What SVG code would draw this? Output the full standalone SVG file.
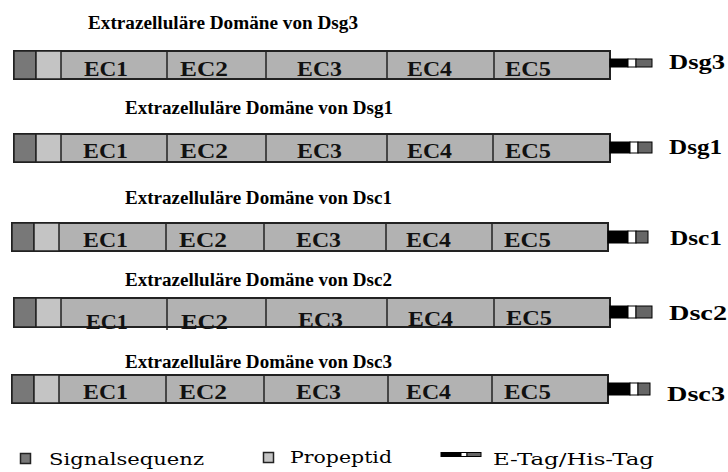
<svg xmlns="http://www.w3.org/2000/svg" width="728" height="472" viewBox="0 0 728 472">
  <style>
    .title { font-family: "Liberation Serif", "Times New Roman", serif; font-weight: bold; font-size: 18px; fill: #000; }
    .ec { font-family: "Liberation Serif", "Times New Roman", serif; font-weight: bold; font-size: 20px; fill: #111; }
    .name { font-family: "Liberation Serif", "Times New Roman", serif; font-weight: bold; font-size: 20px; fill: #000; }
    .legend { font-family: "DejaVu Serif", "Liberation Serif", serif; font-size: 17px; fill: #000; }
    .bar { fill: #b2b2b2; stroke: #222; stroke-width: 2; }
    .sig { fill: #787878; stroke: #222; stroke-width: 1.5; }
    .pro { fill: #c4c4c4; stroke: #222; stroke-width: 1.5; }
    .div { stroke: #222; stroke-width: 1.5; }
    .tagE { fill: #000; stroke: #000; stroke-width: 1; }
    .tagW { fill: #fff; stroke: #000; stroke-width: 1; }
    .tagH { fill: #666; stroke: #000; stroke-width: 1; }
  </style>
  <rect width="728" height="472" fill="#fff"/>

  <!-- Dsg3 -->
  <g id="dsg3">
    <text class="title" x="88" y="29" textLength="270" lengthAdjust="spacingAndGlyphs">Extrazelluläre Domäne von Dsg3</text>
    <rect class="bar" x="14" y="51" width="596" height="28"/>
    <rect class="sig" x="14" y="51" width="22" height="28"/>
    <rect class="pro" x="36" y="51" width="25" height="28"/>
    <line class="div" x1="167" y1="51" x2="167" y2="79"/>
    <line class="div" x1="266" y1="51" x2="266" y2="79"/>
    <line class="div" x1="387" y1="51" x2="387" y2="79"/>
    <line class="div" x1="494" y1="51" x2="494" y2="79"/>
    <text class="ec" x="84" y="76" textLength="44" lengthAdjust="spacingAndGlyphs">EC1</text>
    <text class="ec" x="180" y="76" textLength="48" lengthAdjust="spacingAndGlyphs">EC2</text>
    <text class="ec" x="297" y="76" textLength="45" lengthAdjust="spacingAndGlyphs">EC3</text>
    <text class="ec" x="407" y="76" textLength="45" lengthAdjust="spacingAndGlyphs">EC4</text>
    <text class="ec" x="505" y="76" textLength="46" lengthAdjust="spacingAndGlyphs">EC5</text>
    <rect class="tagE" x="610" y="59" width="18" height="8"/>
    <rect class="tagW" x="628" y="59" width="8" height="8"/>
    <rect class="tagH" x="636" y="59" width="16" height="8"/>
    <text class="name" x="669" y="69" textLength="56" lengthAdjust="spacingAndGlyphs">Dsg3</text>
  </g>

  <!-- Dsg1 -->
  <g id="dsg1">
    <text class="title" x="125" y="114" textLength="268" lengthAdjust="spacingAndGlyphs">Extrazelluläre Domäne von Dsg1</text>
    <rect class="bar" x="14" y="134" width="596" height="28"/>
    <rect class="sig" x="14" y="134" width="22" height="28"/>
    <rect class="pro" x="36" y="134" width="25" height="28"/>
    <line class="div" x1="167" y1="134" x2="167" y2="162"/>
    <line class="div" x1="266" y1="134" x2="266" y2="162"/>
    <line class="div" x1="387" y1="134" x2="387" y2="162"/>
    <line class="div" x1="493" y1="134" x2="493" y2="162"/>
    <text class="ec" x="83" y="158" textLength="45" lengthAdjust="spacingAndGlyphs">EC1</text>
    <text class="ec" x="180" y="158" textLength="48" lengthAdjust="spacingAndGlyphs">EC2</text>
    <text class="ec" x="297" y="158" textLength="45" lengthAdjust="spacingAndGlyphs">EC3</text>
    <text class="ec" x="407" y="158" textLength="45" lengthAdjust="spacingAndGlyphs">EC4</text>
    <text class="ec" x="505" y="158" textLength="46" lengthAdjust="spacingAndGlyphs">EC5</text>
    <rect class="tagE" x="610" y="142" width="20" height="11"/>
    <rect class="tagW" x="630" y="142" width="8" height="11"/>
    <rect class="tagH" x="638" y="142" width="14" height="11"/>
    <text class="name" x="669" y="154" textLength="53" lengthAdjust="spacingAndGlyphs">Dsg1</text>
  </g>

  <!-- Dsc1 -->
  <g id="dsc1">
    <text class="title" x="125" y="204" textLength="267" lengthAdjust="spacingAndGlyphs">Extrazelluläre Domäne von Dsc1</text>
    <rect class="bar" x="12" y="223" width="596" height="28"/>
    <rect class="sig" x="12" y="223" width="22" height="28"/>
    <rect class="pro" x="34" y="223" width="25" height="28"/>
    <line class="div" x1="166" y1="223" x2="166" y2="251"/>
    <line class="div" x1="264" y1="223" x2="264" y2="251"/>
    <line class="div" x1="386" y1="223" x2="386" y2="251"/>
    <line class="div" x1="492" y1="223" x2="492" y2="251"/>
    <text class="ec" x="83" y="247" textLength="45" lengthAdjust="spacingAndGlyphs">EC1</text>
    <text class="ec" x="179" y="247" textLength="48" lengthAdjust="spacingAndGlyphs">EC2</text>
    <text class="ec" x="296" y="247" textLength="45" lengthAdjust="spacingAndGlyphs">EC3</text>
    <text class="ec" x="406" y="247" textLength="45" lengthAdjust="spacingAndGlyphs">EC4</text>
    <text class="ec" x="504" y="247" textLength="47" lengthAdjust="spacingAndGlyphs">EC5</text>
    <rect class="tagE" x="608" y="231" width="20" height="12"/>
    <rect class="tagW" x="628" y="231" width="8" height="12"/>
    <rect class="tagH" x="636" y="231" width="12" height="12"/>
    <text class="name" x="670" y="245" textLength="52" lengthAdjust="spacingAndGlyphs">Dsc1</text>
  </g>

  <!-- Dsc2 -->
  <g id="dsc2">
    <text class="title" x="125" y="286" textLength="267" lengthAdjust="spacingAndGlyphs">Extrazelluläre Domäne von Dsc2</text>
    <rect class="bar" x="14" y="298" width="596" height="29"/>
    <rect class="sig" x="14" y="298" width="22" height="29"/>
    <rect class="pro" x="36" y="298" width="25" height="29"/>
    <line class="div" x1="167" y1="298" x2="167" y2="330"/>
    <line class="div" x1="266" y1="298" x2="266" y2="327"/>
    <line class="div" x1="387" y1="298" x2="387" y2="327"/>
    <line class="div" x1="494" y1="298" x2="494" y2="327"/>
    <text class="ec" x="86" y="329" textLength="42" lengthAdjust="spacingAndGlyphs">EC1</text>
    <text class="ec" x="181" y="329" textLength="47" lengthAdjust="spacingAndGlyphs">EC2</text>
    <text class="ec" x="298" y="327" textLength="45" lengthAdjust="spacingAndGlyphs">EC3</text>
    <text class="ec" x="408" y="326" textLength="45" lengthAdjust="spacingAndGlyphs">EC4</text>
    <text class="ec" x="506" y="325" textLength="46" lengthAdjust="spacingAndGlyphs">EC5</text>
    <rect class="tagE" x="610" y="306" width="18" height="12"/>
    <rect class="tagW" x="628" y="306" width="8" height="12"/>
    <rect class="tagH" x="636" y="306" width="16" height="12"/>
    <text class="name" x="669" y="320" textLength="58" lengthAdjust="spacingAndGlyphs">Dsc2</text>
  </g>

  <!-- Dsc3 -->
  <g id="dsc3">
    <text class="title" x="125" y="368" textLength="267" lengthAdjust="spacingAndGlyphs">Extrazelluläre Domäne von Dsc3</text>
    <rect class="bar" x="12" y="375" width="596" height="28"/>
    <rect class="sig" x="12" y="375" width="22" height="28"/>
    <rect class="pro" x="34" y="375" width="25" height="28"/>
    <line class="div" x1="166" y1="375" x2="166" y2="403"/>
    <line class="div" x1="264" y1="375" x2="264" y2="403"/>
    <line class="div" x1="388" y1="375" x2="388" y2="403"/>
    <line class="div" x1="492" y1="375" x2="492" y2="403"/>
    <text class="ec" x="83" y="399" textLength="45" lengthAdjust="spacingAndGlyphs">EC1</text>
    <text class="ec" x="179" y="399" textLength="48" lengthAdjust="spacingAndGlyphs">EC2</text>
    <text class="ec" x="296" y="399" textLength="45" lengthAdjust="spacingAndGlyphs">EC3</text>
    <text class="ec" x="406" y="399" textLength="45" lengthAdjust="spacingAndGlyphs">EC4</text>
    <text class="ec" x="504" y="399" textLength="47" lengthAdjust="spacingAndGlyphs">EC5</text>
    <rect class="tagE" x="608" y="383" width="22" height="12"/>
    <rect class="tagW" x="630" y="383" width="8" height="12"/>
    <rect class="tagH" x="638" y="383" width="12" height="12"/>
    <text class="name" x="667" y="401" textLength="58" lengthAdjust="spacingAndGlyphs">Dsc3</text>
  </g>

  <!-- Legend -->
  <g id="legend">
    <rect class="sig" x="20.5" y="453.5" width="10" height="10"/>
    <text class="legend" x="49" y="465" textLength="155" lengthAdjust="spacingAndGlyphs">Signalsequenz</text>
    <rect class="pro" x="263.5" y="452.5" width="10" height="10"/>
    <text class="legend" x="290" y="463" textLength="102" lengthAdjust="spacingAndGlyphs">Propeptid</text>
    <rect class="tagE" x="441" y="452.5" width="20" height="4"/>
    <rect class="tagW" x="461" y="452.5" width="6" height="4"/>
    <rect class="tagH" x="467" y="452.5" width="14" height="4"/>
    <text class="legend" x="493" y="465" textLength="161" lengthAdjust="spacingAndGlyphs">E-Tag/His-Tag</text>
  </g>
</svg>
